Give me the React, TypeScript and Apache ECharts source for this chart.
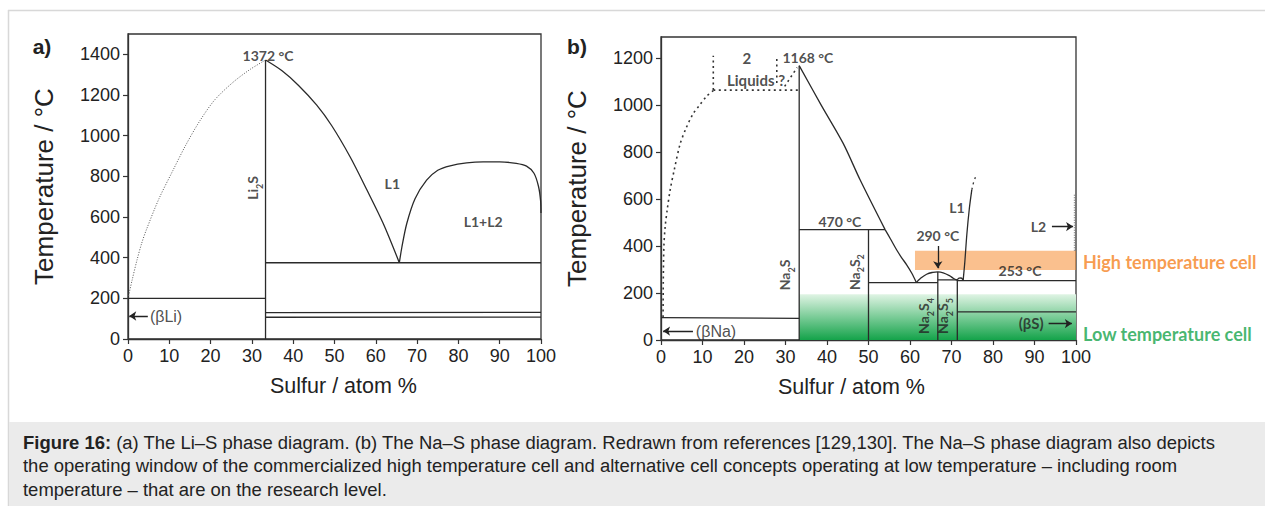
import React, { useEffect, useRef } from "react";
import * as echarts from "echarts";

// ---------- ticks ----------
const xTicks = [0, 10, 20, 30, 40, 50, 60, 70, 80, 90, 100];
const liYTicks = [0, 200, 400, 600, 800, 1000, 1200, 1400];
const naYTicks = [0, 200, 400, 600, 800, 1000, 1200];

// ---------- Li–S diagram ----------
const liLiquidusLeft = [[0, 200], [1, 290], [2.2, 390], [3.3, 470], [4.5, 540], [7.5, 690], [10.9, 830], [14, 954], [17.4, 1073], [21, 1176], [25.4, 1262], [29.5, 1325], [33.3, 1372]];
const liLiquidusRight = [[33.3, 1372], [37.3, 1319], [41.3, 1247], [45.7, 1150], [49.3, 1050], [53.8, 895], [57.8, 735], [61.8, 568], [65.7, 375]];
const liDome = [[65.7, 375], [66.3, 450], [67.5, 568], [69.5, 690], [72.3, 781], [75, 830], [78, 852], [82, 866], [86, 871], [90, 871], [94, 864], [96.5, 850], [98.3, 815], [99.4, 750], [99.9, 680], [100, 620]];
const liLi2S = [[33.3, 0], [33.3, 1372]];
const liBetaLi = [[0, 200], [33.3, 200]];
const liEutectic = [[33.3, 375], [100, 375]];
const liLow1 = [[33.3, 130], [100, 131]];
const liLow2 = [[33.3, 107], [100, 108]];

// ---------- Na–S diagram ----------
const naLiquidusDotted = [[0.5, 98], [0.55, 250], [0.7, 400], [1, 482], [1.5, 555], [2.2, 638], [3.2, 725], [4.6, 834], [6, 900], [7.7, 962], [9.3, 1000], [11, 1038], [12.6, 1062]];
const naGapBottom = [[12.6, 1064], [33, 1064]];
const naGapLeft = [[12.6, 1064], [12.6, 1210]];
const naGapRight = [[27.9, 1094], [27.9, 1205]];
const naGapDiag = [[29.8, 1080], [32.8, 1160]];
const naNa2S = [[33.3, 0], [33.3, 1168]];
const naLiquidus1 = [[33.3, 1168], [38.6, 1000], [43.9, 837], [48, 681], [54, 470]];
const naLine470 = [[33.3, 470], [54, 470]];
const naLiquidus2 = [[54, 470], [55.3, 430], [56.8, 383], [58, 350], [59.2, 320], [60.4, 285], [61.5, 246]];
const naNa2S2 = [[50, 0], [50, 470]];
const naLine244 = [[50, 244], [66.7, 244]];
const naNa2S4 = [[66.7, 0], [66.7, 290]];
const naDome290 = [[61.5, 244], [62.5, 262], [64, 280], [65.5, 288], [66.7, 290], [68, 286], [69.5, 274], [70.5, 262], [71.3, 255]];
const naBump = [[71.4, 256], [71.8, 263], [72.3, 264], [72.8, 256]];
const naLine256 = [[66.7, 256], [71.4, 256]];
const naNa2S5 = [[71.4, 0], [71.4, 258]];
const naLine253 = [[71.4, 253], [100, 253]];
const naBetaS = [[71.4, 120], [100, 120]];
const naBetaNa = [[0, 95], [33.3, 92]];
const naL1Solid = [[72.8, 253], [73.2, 330], [73.7, 450], [74.3, 560], [74.9, 640]];
const naL1Dotted = [[74.9, 640], [75.3, 670], [75.9, 700]];
const naL2Dotted = [[99.6, 380], [99.6, 620]];

// cell operating windows: [xStart, yTop, xEnd, yBottom]
const highTempCell = [61.2, 380, 100, 298];
const lowTempCell = [33.3, 195, 100, 0];

const ARIAL = "'Liberation Sans', Arial, sans-serif";
const CAL = "Lato, 'Open Sans', sans-serif";
const INK = "#222";

function seg(data: number[][], g: number, o: any = {}) {
  return {
    type: "line",
    xAxisIndex: g,
    yAxisIndex: g,
    data,
    showSymbol: false,
    symbol: "none",
    silent: true,
    smooth: o.smooth ?? false,
    z: o.z ?? 3,
    lineStyle: { color: o.color ?? "#2a2a2a", width: o.width ?? 1.3, type: o.type ?? "solid" },
  };
}

function arrows(g: number, list: number[][][]) {
  return {
    type: "lines",
    coordinateSystem: "cartesian2d",
    xAxisIndex: g,
    yAxisIndex: g,
    symbol: ["none", "arrow"],
    symbolSize: 7,
    silent: true,
    z: 5,
    lineStyle: { color: INK, width: 1.3, opacity: 1, curveness: 0 },
    data: list.map((c) => ({ coords: c })),
  };
}

const richSub = {
  n: { fontFamily: CAL, fontWeight: "bold", fontSize: 14, color: INK, lineHeight: 14, verticalAlign: "bottom", padding: [0, 0, 4, 0] },
  s: { fontFamily: CAL, fontWeight: "bold", fontSize: 9, color: INK, lineHeight: 9, verticalAlign: "bottom" },
};

function lab(x: number, y: number, text: string, o: any = {}) {
  return {
    value: [x, y],
    label: {
      show: true,
      position: "inside",
      formatter: text,
      align: o.align ?? "center",
      verticalAlign: "middle",
      rotate: o.rotate ?? 0,
      fontFamily: o.font ?? CAL,
      fontWeight: o.weight ?? "bold",
      fontSize: o.size ?? 14,
      color: o.color ?? INK,
      rich: o.rich,
    },
  };
}

function labels(g: number, data: any[]) {
  return {
    type: "scatter",
    xAxisIndex: g,
    yAxisIndex: g,
    symbolSize: 1,
    silent: true,
    clip: false,
    z: 6,
    itemStyle: { color: "transparent" },
    data,
  };
}

function band(g: number, r: number[], color: any, z: number) {
  return {
    type: "line",
    xAxisIndex: g,
    yAxisIndex: g,
    data: [[r[0], r[3]]],
    showSymbol: false,
    symbol: "none",
    silent: true,
    lineStyle: { width: 0 },
    z,
    markArea: {
      silent: true,
      label: { show: false },
      itemStyle: { color, borderWidth: 0 },
      data: [[{ coord: [r[0], r[1]] }, { coord: [r[2], r[3]] }]],
    },
  };
}

function mkX(g: number, pad: number[]) {
  return {
    type: "value",
    gridIndex: g,
    min: 0,
    max: 100,
    interval: 10,
    name: "Sulfur / atom %",
    nameLocation: "middle",
    nameGap: 36,
    nameTextStyle: { fontFamily: ARIAL, fontSize: 21.5, color: INK, padding: pad },
    axisLine: { show: true, lineStyle: { color: "#333", width: 1.3 } },
    axisTick: { show: true, length: 5, lineStyle: { color: "#333", width: 1.2 } },
    axisLabel: { fontFamily: ARIAL, fontSize: 18, color: INK, margin: 8, customValues: xTicks, formatter: (v: number) => String(v) },
    splitLine: { show: false },
  };
}

function mkY(g: number, max: number, ticks: number[]) {
  return {
    type: "value",
    gridIndex: g,
    min: 0,
    max,
    interval: 200,
    name: "Temperature / °C",
    nameLocation: "middle",
    nameGap: 71,
    nameRotate: 90,
    nameTextStyle: { fontFamily: ARIAL, fontSize: 26, color: INK },
    axisLine: { show: true, lineStyle: { color: "#333", width: 1.3 } },
    axisTick: { show: true, length: 5, customValues: ticks, lineStyle: { color: "#333", width: 1.2 } },
    axisLabel: { fontFamily: ARIAL, fontSize: 18, color: INK, margin: 8, customValues: ticks, formatter: (v: number) => String(v) },
    splitLine: { show: false },
  };
}

export default function App() {
  const ref = useRef<HTMLDivElement>(null);
  useEffect(() => {
    if (!ref.current) return;
    const chart = echarts.init(ref.current, undefined, { renderer: "svg" });
    const dotNa = { type: [2, 3.5], width: 1.6, color: "#333" };
    const dotLi = { type: [1, 1.6], width: 1, color: "#555" };
    const green = new echarts.graphic.LinearGradient(0, 0, 0, 1, [
      { offset: 0, color: "#e0f4e4" },
      { offset: 1, color: "#14a34a" },
    ]);
    const CAP = 18.45;
    const option: any = {
      animation: false,
      backgroundColor: "#ffffff",
      grid: [
        { left: 128, top: 34, width: 413, height: 305, show: true, borderColor: "#333", borderWidth: 1.3, backgroundColor: "transparent", containLabel: false, outerBoundsMode: "none" },
        { left: 661, top: 37, width: 415, height: 303, show: true, borderColor: "#333", borderWidth: 1.3, backgroundColor: "transparent", containLabel: false, outerBoundsMode: "none" },
      ],
      xAxis: [mkX(0, [0, 0, 0, 18]), mkX(1, [0, 34, 0, 0])],
      yAxis: [mkY(0, 1500, liYTicks), mkY(1, 1290, naYTicks)],
      graphic: [
        { type: "line", silent: true, shape: { x1: 8, y1: 10.5, x2: 1265, y2: 10.5 }, style: { stroke: "#d8d8d8", lineWidth: 1.5 } },
        { type: "line", silent: true, shape: { x1: 8.5, y1: 10, x2: 8.5, y2: 506 }, style: { stroke: "#d8d8d8", lineWidth: 1.5 } },
        { type: "rect", silent: true, shape: { x: 9, y: 422, width: 1256, height: 84 }, style: { fill: "#ebebeb" } },
        { type: "text", silent: true, style: { x: 42, y: 46, text: "a)", font: `bold 21px ${ARIAL}`, fill: INK, align: "center", verticalAlign: "middle" } },
        { type: "text", silent: true, style: { x: 577, y: 46, text: "b)", font: `bold 21px ${ARIAL}`, fill: INK, align: "center", verticalAlign: "middle" } },
        {
          type: "text",
          silent: true,
          style: {
            x: 23,
            y: 442,
            verticalAlign: "middle",
            text: "{b|Figure 16:} (a) The Li–S phase diagram. (b) The Na–S phase diagram. Redrawn from references [129,130]. The Na–S phase diagram also depicts",
            font: `${CAP}px ${ARIAL}`,
            fill: INK,
            rich: { b: { fontWeight: "bold", fontSize: CAP, fontFamily: ARIAL, fill: INK } },
          },
        },
        { type: "text", silent: true, style: { x: 23, y: 465.5, verticalAlign: "middle", text: "the operating window of the commercialized high temperature cell and alternative cell concepts operating at low temperature – including room", font: `${CAP}px ${ARIAL}`, fill: INK } },
        { type: "text", silent: true, style: { x: 23, y: 489, verticalAlign: "middle", text: "temperature – that are on the research level.", font: `${CAP}px ${ARIAL}`, fill: INK } },
      ],
      series: [
        // Li–S
        seg(liLiquidusLeft, 0, { ...dotLi, smooth: 0.3 }),
        seg(liLiquidusRight, 0, { smooth: 0.3 }),
        seg(liDome, 0, { smooth: 0.3 }),
        seg(liLi2S, 0),
        seg(liBetaLi, 0),
        seg(liEutectic, 0),
        seg(liLow1, 0),
        seg(liLow2, 0),
        arrows(0, [[[4.8, 113], [0.3, 113]]]),
        labels(0, [
          lab(33.9, 1393, "1372 °C"),
          lab(31.2, 743, "{n|Li}{s|2}{n|S}", { rotate: 90, rich: richSub }),
          lab(64, 766, "L1"),
          lab(86, 578, "L1+L2"),
          lab(5.3, 113, "(βLi)", { align: "left", font: ARIAL, size: 16, weight: "normal" }),
        ]),
        // Na–S bands
        band(1, lowTempCell, green, 1),
        band(1, highTempCell, "rgba(245,140,50,0.55)", 7),
        // Na–S lines
        seg(naLiquidusDotted, 1, { ...dotNa, smooth: 0.3 }),
        seg(naGapBottom, 1, dotNa),
        seg(naGapLeft, 1, dotNa),
        seg(naGapRight, 1, dotNa),
        seg(naGapDiag, 1, dotNa),
        seg(naNa2S, 1),
        seg(naLiquidus1, 1, { smooth: 0.3 }),
        seg(naLine470, 1),
        seg(naLiquidus2, 1, { smooth: 0.3 }),
        seg(naNa2S2, 1),
        seg(naLine244, 1),
        seg(naNa2S4, 1),
        seg(naDome290, 1, { smooth: 0.4 }),
        seg(naBump, 1, { smooth: 0.4 }),
        seg(naLine256, 1),
        seg(naNa2S5, 1),
        seg(naLine253, 1),
        seg(naBetaS, 1),
        seg(naBetaNa, 1),
        seg(naL1Solid, 1, { smooth: 0.3 }),
        seg(naL1Dotted, 1, { ...dotNa, width: 1.3 }),
        seg(naL2Dotted, 1, { type: [1, 1.5], width: 1, color: "#666" }),
        arrows(1, [
          [[7.7, 38], [0.5, 38]],
          [[66.7, 400], [66.7, 305]],
          [[94.2, 483], [99.3, 483]],
          [[93.4, 70], [99.0, 70]],
        ]),
        labels(1, [
          lab(35.4, 1204, "1168 °C"),
          lab(20.7, 1200, "2", { size: 15 }),
          lab(22.9, 1106, "Liquids ?", { size: 15 }),
          lab(43.1, 506, "470 °C"),
          lab(66.7, 443, "290 °C"),
          lab(86.5, 298, "253 °C"),
          lab(71.3, 562, "L1"),
          lab(92.8, 483, "L2", { align: "right" }),
          lab(30.8, 277, "{n|Na}{s|2}{n|S}", { rotate: 90, rich: richSub }),
          lab(47.5, 289, "{n|Na}{s|2}{n|S}{s|2}", { rotate: 90, rich: richSub }),
          lab(64.3, 102, "{n|Na}{s|2}{n|S}{s|4}", { rotate: 90, rich: richSub }),
          lab(68.9, 102, "{n|Na}{s|2}{n|S}{s|5}", { rotate: 90, rich: richSub }),
          lab(92.2, 72, "(βS)", { align: "right", size: 15 }),
          lab(8.4, 38, "(βNa)", { align: "left", font: ARIAL, size: 16, weight: "normal" }),
          lab(101.7, 332, "High temperature cell", { align: "left", size: 18, color: "#f5821f" }),
          lab(101.7, 25.5, "Low temperature cell", { align: "left", size: 18, color: "#16a34a" }),
        ]),
      ],
    };
    chart.setOption(option);
    return () => chart.dispose();
  }, []);
  return <div ref={ref} style={{ position: "fixed", left: 0, top: 0, width: 1265, height: 506 }} />;
}
